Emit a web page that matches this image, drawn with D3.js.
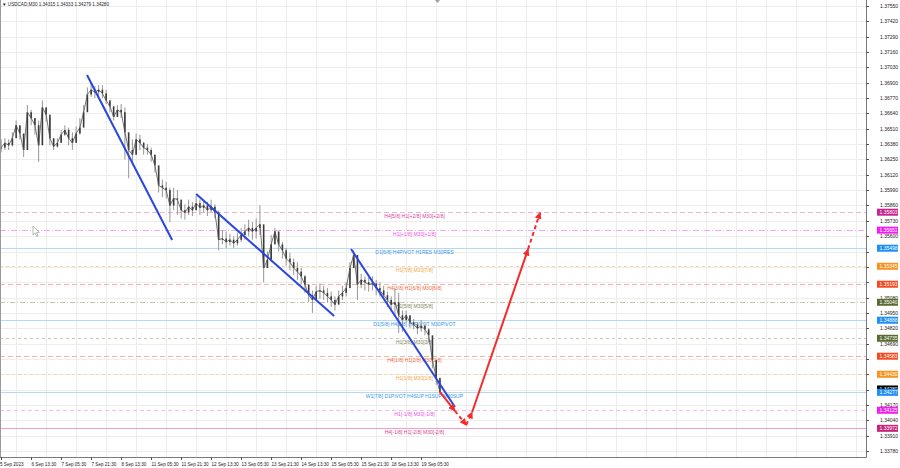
<!DOCTYPE html>
<html><head><meta charset="utf-8">
<script src="https://cdn.jsdelivr.net/npm/d3@7"></script>
<style>body{margin:0;background:#fff;} svg{display:block;} text{font-family:"Liberation Sans",Arial,sans-serif;}</style>
</head><body><svg id="c" width="900" height="468"></svg>
<script>
// ---- data (USDCAD M30, one sample ≈ 4 bars) ----
const closes=[1.3635,1.3639,1.3637,1.3643,1.3654,1.3647,1.3633,1.3665,1.3660,1.3654,
1.3637,1.3669,1.3663,1.3643,1.3636,1.3639,1.3646,1.3650,1.3643,1.3639,
1.3647,1.3652,1.3665,1.3680,1.3684,1.3682,1.3684,1.3681,1.3675,1.3670,
1.3661,1.3667,1.3665,1.3648,1.3633,1.3629,1.3642,1.3639,1.3635,1.3633,
1.3629,1.3620,1.3603,1.3601,1.3599,1.3586,1.3592,1.3591,1.3582,1.3580,
1.3585,1.3582,1.3588,1.3584,1.3586,1.3582,1.3585,1.3580,1.3557,1.3558,
1.3555,1.3557,1.3554,1.3557,1.3561,1.3564,1.3567,1.3564,1.3567,1.3570,
1.3533,1.3540,1.3553,1.3564,1.3553,1.3548,1.3541,1.3538,1.3533,1.3530,
1.3526,1.3519,1.3510,1.3506,1.3513,1.3514,1.3512,1.3509,1.3506,1.3502,
1.3509,1.3512,1.3516,1.3533,1.3544,1.3519,1.3523,1.3521,1.3519,1.3520,
1.3516,1.3514,1.3510,1.3506,1.3502,1.3504,1.3493,1.3489,1.3493,1.3487,
1.3485,1.3482,1.3484,1.3481,1.3476,1.3455,1.3440,1.3428];
const highs=[1.3642,1.3643,1.3642,1.3648,1.3658,1.3653,1.3646,1.3671,1.3667,1.3660,
1.3658,1.3675,1.3669,1.3660,1.3642,1.3643,1.3650,1.3654,1.3652,1.3648,
1.3653,1.3660,1.3671,1.3686,1.3690,1.3687,1.3688,1.3688,1.3684,1.3675,
1.3667,1.3671,1.3672,1.3669,1.3646,1.3642,1.3647,1.3646,1.3640,1.3638,
1.3635,1.3629,1.3618,1.3608,1.3606,1.3601,1.3601,1.3599,1.3588,1.3587,
1.3591,1.3589,1.3594,1.3591,1.3591,1.3589,1.3591,1.3587,1.3582,1.3565,
1.3564,1.3562,1.3560,1.3563,1.3567,1.3570,1.3574,1.3572,1.3575,1.3586,
1.3557,1.3547,1.3561,1.3567,1.3558,1.3555,1.3550,1.3546,1.3541,1.3538,
1.3533,1.3527,1.3516,1.3514,1.3518,1.3520,1.3518,1.3516,1.3513,1.3509,
1.3514,1.3518,1.3521,1.3538,1.3548,1.3531,1.3528,1.3526,1.3525,1.3526,
1.3523,1.3521,1.3518,1.3513,1.3509,1.3516,1.3512,1.3497,1.3497,1.3492,
1.3490,1.3487,1.3489,1.3486,1.3482,1.3472,1.3451,1.3438];
const lows=[1.3631,1.3633,1.3633,1.3636,1.3648,1.3642,1.3627,1.3642,1.3654,1.3646,
1.3623,1.3654,1.3657,1.3637,1.3633,1.3635,1.3640,1.3645,1.3637,1.3633,
1.3642,1.3646,1.3658,1.3674,1.3678,1.3677,1.3679,1.3677,1.3672,1.3665,
1.3658,1.3662,1.3660,1.3625,1.3609,1.3620,1.3629,1.3633,1.3629,1.3629,
1.3623,1.3614,1.3597,1.3593,1.3592,1.3572,1.3582,1.3578,1.3575,1.3574,
1.3578,1.3577,1.3582,1.3578,1.3580,1.3577,1.3580,1.3575,1.3548,1.3553,
1.3550,1.3552,1.3550,1.3552,1.3555,1.3557,1.3560,1.3557,1.3558,1.3561,
1.3521,1.3533,1.3538,1.3557,1.3547,1.3541,1.3535,1.3531,1.3527,1.3523,
1.3519,1.3512,1.3504,1.3495,1.3506,1.3507,1.3506,1.3504,1.3500,1.3497,
1.3503,1.3506,1.3509,1.3523,1.3535,1.3506,1.3516,1.3514,1.3513,1.3514,
1.3510,1.3509,1.3506,1.3500,1.3496,1.3493,1.3478,1.3479,1.3487,1.3482,
1.3481,1.3477,1.3479,1.3476,1.3470,1.3448,1.3434,1.3426];

const timeLabels=["5 Sep 2023","6 Sep 13:30","7 Sep 05:30","7 Sep 21:30","8 Sep 13:30","11 Sep 05:30","11 Sep 21:30","12 Sep 13:30","13 Sep 05:30","13 Sep 21:30","14 Sep 13:30","15 Sep 05:30","15 Sep 21:30","18 Sep 13:30","19 Sep 05:30"];
const timeLabelIdx=[0.2,8.2,16.2,24.2,32.2,40.2,48.2,56.2,64.2,72.2,80.2,88.2,96.2,104.2,112.2];
const priceTicks=[1.37550,1.37420,1.37290,1.37160,1.37030,1.36900,1.36770,1.36640,1.36510,1.36380,1.36250,1.36120,1.35990,1.35860,1.35730,1.35600,1.35470,1.35340,1.35210,1.35080,1.34950,1.34820,1.34690,1.34560,1.34430,1.34300,1.34170,1.34040,1.33910,1.33780];

const levelPrices=[1.35803,1.35651,1.35498,1.35345,1.35193,1.35040,1.34888,1.34735,1.34583,1.34430,1.34277,1.34125,1.33972];
const levelNames=["H4[5/8] H1[+2/8] M30[+2/8]","H1[+1/8] M30[+1/8]","D1[6/8] H4PIVOT H1RES M30RES","H1[7/8] M30[7/8]","H4[3/8] H1[6/8] M30[6/8]","H1[5/8] M30[5/8]","D1[5/8] H4[2/8] H1PIVOT M30PIVOT","H1[3/8] M30[3/8]","H4[1/8] H1[2/8] M30[2/8]","H1[1/8] M30[1/8]","W1[7/8] D1PIVOT H4SUP H1SUP M30SUP","H1[-1/8] M30[-1/8]","H4[-1/8] H1[-2/8] M30[-2/8]"];
const levelKinds=["h4","h1x","pivot","h1o","h4r","h1g","pivot","h1g2","h4r","h1o","pivot","h1m","h4b"];

const trendIdx=[[23.2,45.9],[52.3,89.1],[93.6,121.3]];
const trendPrice=[[1.36965,1.35568],[1.35957,1.34924],[1.35491,1.34153]];

const forecastIdx=[117.3,121.3,124.3,125.9,140.8,144.0];
const forecastPrice=[1.34280,1.34120,1.34000,1.34110,1.35490,1.35800];
const forecastDashed=[false,true,true,false,true];

const symbol="USDCAD,M30";
const quote=["1.34315","1.34333","1.34279","1.34280"];
const lastPrice=1.34280;

// ---- styles ----
const kindStyle={
 h4:{line:"#f7b0da",dash:"5,3",text:"#d8409f",box:"#c8238c"},
 h1x:{line:"#f6a4f6",dash:"6,2,1,2",text:"#e651e6",box:"#f01ef0"},
 pivot:{line:"#b4d9f8",dash:null,text:"#3a95ea",box:"#1e8ff5"},
 h1o:{line:"#f9d4a8",dash:"3,3",text:"#f2a640",box:"#f7931e"},
 h4r:{line:"#f9b4a0",dash:"5,3",text:"#f26a40",box:"#f04a1e"},
 h1g:{line:"#c4c6b0",dash:"5,2,1,2",text:"#7a8458",box:"#5a6b32"},
 h1g2:{line:"#c8c9b4",dash:"3,3",text:"#7a8458",box:"#5a6b32"},
 h1m:{line:"#f7b8f7",dash:"4,3",text:"#e651e6",box:"#f01ef0"},
 h4b:{line:"#f3a0c4",dash:null,text:"#d8408a",box:"#c8237a"}
};

const plotR=866, plotB=457;
const svg=d3.select("#c");
const x=d3.scaleLinear().domain([0,230.9]).range([0,plotR]);
const y=d3.scaleLinear().domain([1.33780,1.37550]).range([451,6]);

// grid
const g=svg.append("g");
g.selectAll("line.hg").data(priceTicks).enter().append("line")
 .attr("x1",0).attr("x2",plotR).attr("y1",d=>Math.round(y(d))+0.5).attr("y2",d=>Math.round(y(d))+0.5)
 .attr("stroke","#ededed").attr("stroke-width",1);
const vgrid=d3.range(0,29).map(k=>timeLabelIdx[0]+4+8*k);
g.selectAll("line.vg").data(vgrid).enter().append("line")
 .attr("y1",0).attr("y2",plotB).attr("x1",d=>Math.round(x(d))+0.5).attr("x2",d=>Math.round(x(d))+0.5)
 .attr("stroke","#ededed").attr("stroke-width",1);

// level lines
const lv=svg.append("g");
levelPrices.forEach((p,i)=>{
  const s=kindStyle[levelKinds[i]];
  const yy=Math.round(y(p))+0.5;
  lv.append("line").attr("x1",0).attr("x2",plotR).attr("y1",yy).attr("y2",yy)
    .attr("stroke",s.line).attr("stroke-width",1).attr("stroke-dasharray",s.dash);
  lv.append("text").attr("x",x(110.5)).attr("y",yy+5).attr("text-anchor","middle")
    .attr("font-size",5).attr("fill",s.text).text(levelNames[i]);
});

// candles
const cg=svg.append("g");
closes.forEach((c,i)=>{
  const o=i>0?closes[i-1]:c;
  const xx=x(i+0.3);
  cg.append("line").attr("x1",xx).attr("x2",xx).attr("y1",y(highs[i])).attr("y2",y(lows[i]))
    .attr("stroke","#8a8a8a").attr("stroke-width",0.9);
  const top=y(Math.max(o,c)), bot=y(Math.min(o,c));
  cg.append("rect").attr("x",xx-0.8).attr("width",1.6).attr("y",top).attr("height",Math.max(1,bot-top))
    .attr("fill","#3a3a3a");
});
cg.append("path").datum(closes).attr("fill","none").attr("stroke","#505050").attr("stroke-width",0.8)
  .attr("d",d3.line().x((d,i)=>x(i+0.3)).y(d=>y(d)));

// trendlines
const tg=svg.append("g");
trendIdx.forEach((t,k)=>{
  tg.append("line").attr("x1",x(t[0])).attr("y1",y(trendPrice[k][0])).attr("x2",x(t[1])).attr("y2",y(trendPrice[k][1]))
   .attr("stroke","#2a46e0").attr("stroke-width",2);
});

// forecast arrows
const defs=svg.append("defs");
defs.append("marker").attr("id","ah").attr("viewBox","0 0 10 10").attr("refX",9).attr("refY",5)
 .attr("markerWidth",7).attr("markerHeight",7).attr("markerUnits","userSpaceOnUse").attr("orient","auto")
 .append("path").attr("d","M0,0L10,5L0,10Z").attr("fill","#f52a2a");
const fg=svg.append("g");
for(let k=0;k<forecastIdx.length-1;k++){
  fg.append("line").attr("x1",x(forecastIdx[k])).attr("y1",y(forecastPrice[k]))
   .attr("x2",x(forecastIdx[k+1])).attr("y2",y(forecastPrice[k+1]))
   .attr("stroke","#f52a2a").attr("stroke-width",2).attr("stroke-dasharray",forecastDashed[k]?"4,3":null)
   .attr("marker-end","url(#ah)");
}

// mouse cursor
svg.append("path").attr("d","M33,226 L33,235 L35.2,233 L36.8,236.5 L38,236 L36.5,232.5 L39.3,232.3 Z")
  .attr("fill","#fff").attr("stroke","#888").attr("stroke-width",0.6);

// frame
svg.append("line").attr("x1",plotR+0.5).attr("x2",plotR+0.5).attr("y1",0).attr("y2",plotB+0.5).attr("stroke","#7a7a7a");
svg.append("line").attr("x1",0).attr("x2",plotR+0.5).attr("y1",plotB+0.5).attr("y2",plotB+0.5).attr("stroke","#7a7a7a");
svg.append("line").attr("x1",0.5).attr("x2",0.5).attr("y1",0).attr("y2",plotB).attr("stroke","#9a9a9a");
svg.append("path").attr("d","M435,0 L440,0 L437.5,3 Z").attr("fill","#a0a0a0");

// price axis
const ax=svg.append("g");
priceTicks.forEach(p=>{
  const yy=Math.round(y(p))+0.5;
  ax.append("line").attr("x1",plotR).attr("x2",plotR+3).attr("y1",yy).attr("y2",yy).attr("stroke","#555");
  const covered=levelPrices.concat([lastPrice]).some(q=>Math.abs(y(q)-y(p))<3.6);
  if(!covered) ax.append("text").attr("x",880).attr("y",yy+1.8).attr("font-size",5).attr("fill","#222").text(p.toFixed(5));
});
function box(p,fill,dy){
  const yy=y(p)+(dy||0);
  ax.append("rect").attr("x",877).attr("y",yy-3.5).attr("width",21).attr("height",7).attr("fill",fill);
  ax.append("text").attr("x",879.5).attr("y",yy+1.8).attr("font-size",5).attr("fill","#fff").text(p.toFixed(5));
}
box(lastPrice,"#000",-3);
levelPrices.forEach((p,i)=>box(p,kindStyle[levelKinds[i]].box));

// time axis
timeLabels.forEach((t,i)=>{
  const xx=Math.round(x(timeLabelIdx[i]))+0.5;
  ax.append("line").attr("x1",xx).attr("x2",xx).attr("y1",plotB).attr("y2",plotB+3).attr("stroke","#555");
  ax.append("text").attr("x",xx-(i===0?1.5:0)).attr("y",plotB+8.5).attr("font-size",4.6).attr("fill","#222").text(t);
});

// title
svg.append("text").attr("x",2).attr("y",6).attr("font-size",4.6).attr("fill","#222")
  .text("\u25BC "+symbol+"  "+quote.join(" "));
</script></body></html>
